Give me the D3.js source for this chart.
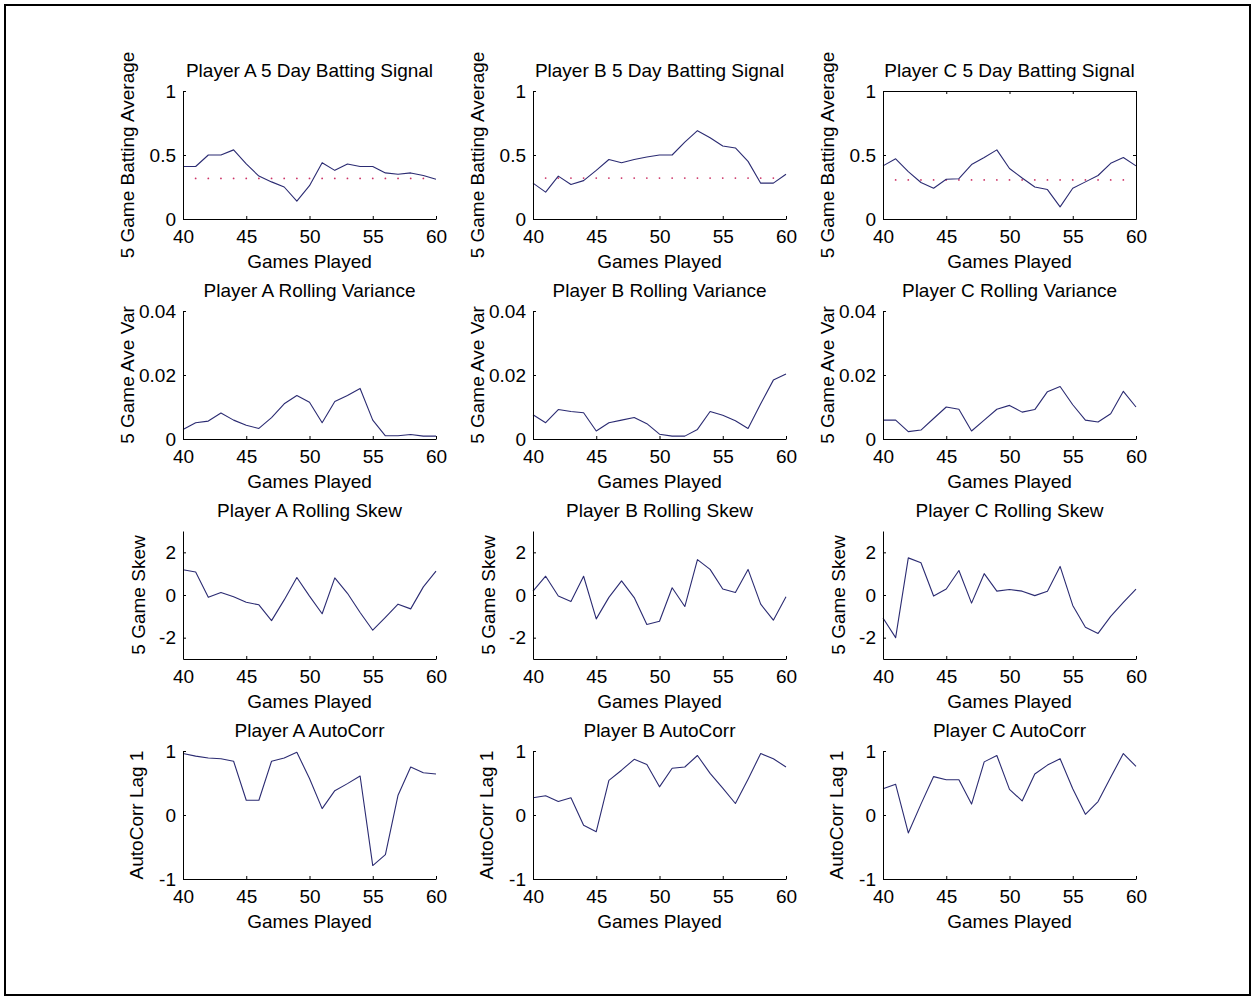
<!DOCTYPE html>
<html>
<head>
<meta charset="utf-8">
<script src="https://cdn.jsdelivr.net/npm/d3@7"></script>
<style>
  html, body { margin: 0; padding: 0; background: #fff; }
  svg { display: block; }
  text { font-family: "Liberation Sans", Arial, Helvetica, sans-serif; fill: #000; }
</style>
</head>
<body>
<svg id="chart" width="1257" height="1001"></svg>
<script>
// ---------- data ----------
const games = [40,41,42,43,44,45,46,47,48,49,50,51,52,53,54,55,56,57,58,59,60];
const players = ["A", "B", "C"];

const batA = [0.41,0.41,0.50,0.50,0.54,0.43,0.335,0.29,0.25,0.14,0.26,0.44,0.38,0.43,0.41,0.41,0.36,0.35,0.36,0.34,0.31];
const batB = [0.28,0.21,0.335,0.27,0.30,0.38,0.465,0.44,0.465,0.485,0.50,0.50,0.60,0.69,0.635,0.57,0.555,0.45,0.28,0.28,0.35];
const batC = [0.415,0.47,0.37,0.285,0.24,0.31,0.315,0.425,0.48,0.54,0.395,0.32,0.25,0.23,0.095,0.24,0.29,0.34,0.435,0.48,0.415];

const varA = [0.0030,0.0051,0.0056,0.0081,0.0059,0.0043,0.0033,0.0067,0.0110,0.0136,0.0115,0.0051,0.0117,0.0136,0.0158,0.0059,0.0010,0.0010,0.0014,0.0009,0.0009];
const varB = [0.0076,0.0051,0.0092,0.0086,0.0082,0.0025,0.0051,0.0059,0.0067,0.0048,0.0015,0.0009,0.0009,0.0030,0.0086,0.0074,0.0057,0.0033,0.0110,0.0184,0.0203];
const varC = [0.0059,0.0059,0.0023,0.0028,0.0064,0.0100,0.0093,0.0025,0.0059,0.0093,0.0105,0.0084,0.0092,0.0148,0.0164,0.0107,0.0059,0.0053,0.0079,0.0149,0.0100];

const skewA = [1.18,1.08,-0.11,0.12,-0.08,-0.34,-0.46,-1.2,-0.23,0.82,-0.05,-0.88,0.80,0.08,-0.82,-1.65,-1.05,-0.43,-0.65,0.38,1.12];
const skewB = [0.18,0.88,-0.05,-0.31,0.88,-1.12,-0.11,0.66,-0.12,-1.38,-1.23,0.34,-0.54,1.66,1.2,0.28,0.12,1.2,-0.43,-1.18,-0.08];
const skewC = [-1.08,-2.0,1.74,1.51,-0.05,0.28,1.15,-0.38,1.0,0.18,0.26,0.18,-0.03,0.18,1.34,-0.49,-1.51,-1.8,-1.0,-0.35,0.28];

const acA = [0.96,0.92,0.89,0.88,0.84,0.23,0.23,0.84,0.89,0.98,0.57,0.10,0.38,0.49,0.61,-0.79,-0.62,0.31,0.75,0.66,0.64];
const acB = [0.27,0.30,0.21,0.27,-0.16,-0.26,0.54,0.70,0.87,0.79,0.44,0.73,0.75,0.93,0.65,0.42,0.18,0.56,0.96,0.88,0.75];
const acC = [0.41,0.48,-0.28,0.17,0.60,0.55,0.55,0.17,0.83,0.93,0.40,0.22,0.64,0.78,0.88,0.41,0.01,0.21,0.59,0.96,0.76];

// season averages drawn as dotted reference in the batting panels
const seasonAvg = [0.317, 0.32, 0.305];
const refGames = [41,42,43,44,45,46,47,48,49,50,51,52,53,54,55,56,57,58,59];

const xTicks = [40, 45, 50, 55, 60];
const rowTitles = ["5 Day Batting Signal", "Rolling Variance", "Rolling Skew", "AutoCorr"];
const rowYLabels = ["5 Game Batting Average", "5 Game Ave Var", "5 Game Skew", "AutoCorr Lag 1"];
const rowDomains = [[0, 1], [0, 0.04], [-3, 3], [-1, 1]];
const rowTicks = [[0, 0.5, 1], [0, 0.02, 0.04], [-2, 0, 2], [-1, 0, 1]];
const rowTickLabels = [["0", "0.5", "1"], ["0", "0.02", "0.04"], ["-2", "0", "2"], ["-1", "0", "1"]];
const rowSeries = [[batA, batB, batC], [varA, varB, varC], [skewA, skewB, skewC], [acA, acB, acC]];
const xLabel = "Games Played";

// ---------- layout ----------
const colLeft = [183, 533, 883];
const rowTop = [91, 311, 531, 751];
const W = 253, H = 128;
const yLabelOffset = [49.5, 49.5, 38, 40];
const FS = 19;
const lineColor = "#2b2b72";
const refColor = "#cc3366";

const svg = d3.select("#chart");
svg.append("rect").attr("x", 0).attr("y", 0).attr("width", 1257).attr("height", 1001).attr("fill", "#fff");
svg.append("rect").attr("x", 5).attr("y", 5).attr("width", 1245).attr("height", 990)
  .attr("fill", "none").attr("stroke", "#000").attr("stroke-width", 2);

const x = d3.scaleLinear().domain([40, 60]).range([0, W]);

rowSeries.forEach((series, r) => {
  const y = d3.scaleLinear().domain(rowDomains[r]).range([H, 0]);
  series.forEach((vals, c) => {
    const g = svg.append("g").attr("transform", `translate(${colLeft[c]},${rowTop[r]})`);

    // reference dots (batting rows)
    if (r === 0) {
      g.selectAll("circle.ref").data(refGames).enter().append("circle")
        .attr("class", "ref")
        .attr("cx", d => x(d)).attr("cy", y(seasonAvg[c]))
        .attr("r", 0.9).attr("fill", refColor);
    }

    // line
    const line = d3.line().x((d, i) => x(games[i])).y(d => y(d));
    g.append("path").datum(vals)
      .attr("d", line).attr("fill", "none")
      .attr("stroke", lineColor).attr("stroke-width", 1.1)
      .attr("stroke-linejoin", "round");

    // axes
    const xa = g.append("g").attr("transform", `translate(0,${H})`)
      .call(d3.axisBottom(x).tickValues(xTicks).tickFormat(d3.format("d"))
        .tickSizeInner(-3).tickSizeOuter(0).tickPadding(11));
    const ya = g.append("g")
      .call(d3.axisLeft(y).tickValues(rowTicks[r]).tickFormat((d, i) => rowTickLabels[r][i])
        .tickSizeInner(-3).tickSizeOuter(0).tickPadding(7));
    [xa, ya].forEach(a => {
      a.attr("font-size", FS).attr("font-family", null);
      a.selectAll("path,line").attr("stroke", "#000");
      a.selectAll("text").attr("fill", "#000");
    });

    // box for Player C batting panel
    if (r === 0 && c === 2) {
      g.append("g").call(d3.axisTop(x).tickValues(xTicks).tickFormat("")
        .tickSizeInner(-3).tickSizeOuter(0)).selectAll("path,line").attr("stroke", "#000");
      g.append("g").attr("transform", `translate(${W},0)`)
        .call(d3.axisRight(y).tickValues(rowTicks[r]).tickFormat("")
          .tickSizeInner(-3).tickSizeOuter(0)).selectAll("path,line").attr("stroke", "#000");
    }

    // title
    g.append("text").attr("x", W / 2).attr("y", -14)
      .attr("text-anchor", "middle").attr("font-size", FS)
      .text(`Player ${players[c]} ${rowTitles[r]}`);

    // x label
    g.append("text").attr("x", W / 2).attr("y", H + 48.5)
      .attr("text-anchor", "middle").attr("font-size", FS)
      .text(xLabel);

    // y label
    g.append("text")
      .attr("transform", `translate(${-yLabelOffset[r]},${H / 2}) rotate(-90)`)
      .attr("text-anchor", "middle").attr("font-size", FS)
      .text(rowYLabels[r]);
  });
});
</script>
</body>
</html>
